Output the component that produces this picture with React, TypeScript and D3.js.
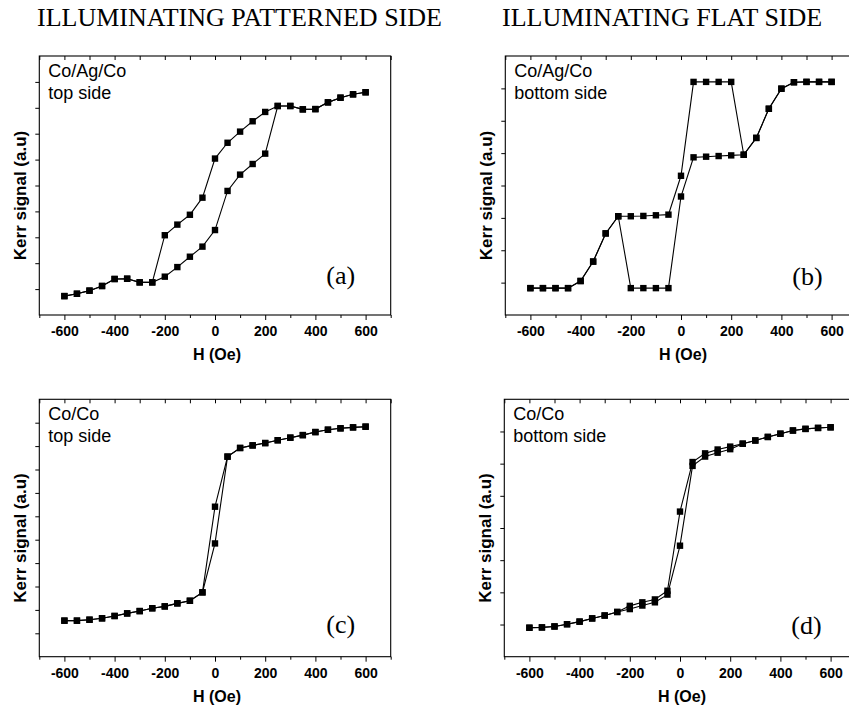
import React, { useRef, useEffect } from "react";
import * as d3 from "d3";

// applied field (Oe), shared by every loop
const fields = [
  -600, -550, -500, -450, -400, -350, -300, -250, -200, -150, -100, -50, 0,
  50, 100, 150, 200, 250, 300, 350, 400, 450, 500, 550, 600,
];

// (a) Co/Ag/Co, top side
const aUp = [0.73, 0.82, 0.94, 1.12, 1.39, 1.4, 1.26, 1.26, 1.48, 1.85, 2.25, 2.64, 3.28, 4.79, 5.42, 5.83, 6.23, 8.07, 8.07, 7.94, 7.95, 8.21, 8.39, 8.52, 8.6];
const aDown = [0.73, 0.82, 0.94, 1.12, 1.39, 1.4, 1.26, 1.26, 3.08, 3.49, 3.87, 4.53, 6.04, 6.65, 7.08, 7.48, 7.84, 8.07, 8.07, 7.94, 7.95, 8.21, 8.39, 8.52, 8.6];

// (b) Co/Ag/Co, bottom side
const bUp = [0.83, 0.83, 0.83, 0.83, 1.05, 1.65, 2.52, 3.05, 3.05, 3.06, 3.08, 3.1, 4.3, 7.2, 7.2, 7.2, 7.2, 4.95, 5.47, 6.37, 6.99, 7.19, 7.2, 7.2, 7.2];
const bDown = [0.83, 0.83, 0.83, 0.83, 1.05, 1.65, 2.52, 3.05, 0.83, 0.83, 0.83, 0.83, 3.66, 4.87, 4.89, 4.91, 4.93, 4.95, 5.47, 6.37, 6.99, 7.19, 7.2, 7.2, 7.2];

// (c) Co/Co, top side
const cUp = [1.54, 1.54, 1.58, 1.64, 1.74, 1.85, 1.95, 2.07, 2.15, 2.28, 2.39, 2.75, 4.84, 8.55, 8.92, 9.03, 9.13, 9.25, 9.36, 9.47, 9.6, 9.7, 9.76, 9.8, 9.83];
const cDown = [1.54, 1.54, 1.58, 1.64, 1.74, 1.85, 1.95, 2.07, 2.15, 2.28, 2.39, 2.75, 6.41, 8.55, 8.92, 9.03, 9.13, 9.25, 9.36, 9.47, 9.6, 9.7, 9.76, 9.8, 9.83];

// (d) Co/Co, bottom side
const dUp = [0.9, 0.91, 0.94, 1.01, 1.09, 1.19, 1.28, 1.39, 1.48, 1.59, 1.69, 1.93, 3.45, 5.93, 6.22, 6.34, 6.45, 6.62, 6.72, 6.83, 6.93, 7.03, 7.08, 7.11, 7.13];
const dDown = [0.9, 0.91, 0.94, 1.01, 1.09, 1.19, 1.28, 1.39, 1.58, 1.69, 1.78, 2.05, 4.51, 6.05, 6.32, 6.44, 6.53, 6.62, 6.72, 6.83, 6.93, 7.03, 7.08, 7.11, 7.13];

const majorTicks = [-600, -400, -200, 0, 200, 400, 600];
const minorTicks = [-700, -500, -300, -100, 100, 300, 500, 700];
const columnTitles = ["ILLUMINATING PATTERNED SIDE", "ILLUMINATING FLAT SIDE"];

const sans = "'Liberation Sans', Arial, sans-serif";
const serif = "'Liberation Serif', 'Times New Roman', serif";

const panels = [
  { left: 39.3, top: 56, bottom: 315, yMax: 10, up: aUp, down: aDown, sample: "Co/Ag/Co", side: "top side", tag: "(a)", tagDy: 31 },
  { left: 505.3, top: 56, bottom: 315, yMax: 8, up: bUp, down: bDown, sample: "Co/Ag/Co", side: "bottom side", tag: "(b)", tagDy: 30 },
  { left: 39.3, top: 399.3, bottom: 656.7, yMax: 11, up: cUp, down: cDown, sample: "Co/Co", side: "top side", tag: "(c)", tagDy: 23.5 },
  { left: 504.3, top: 399.3, bottom: 656.7, yMax: 8, up: dUp, down: dDown, sample: "Co/Co", side: "bottom side", tag: "(d)", tagDy: 22.5 },
];

const App = () => {
  const ref = useRef(null);

  useEffect(() => {
    const svg = d3.select(ref.current);
    svg.selectAll("*").remove();

    svg.append("rect").attr("width", 849).attr("height", 708).attr("fill", "white");

    svg
      .selectAll(".title")
      .data(columnTitles)
      .enter()
      .append("text")
      .attr("class", "title")
      .attr("x", (d, i) => (i === 0 ? 37 : 502))
      .attr("y", 26)
      .attr("font-family", serif)
      .attr("font-size", "26px")
      .attr("fill", "black")
      .text((d) => d);

    panels.forEach((p) => {
      const width = 351.4;
      const right = p.left + width;
      const g = svg.append("g");

      const x = d3.scaleLinear().domain([-700, 700]).range([p.left, right]);
      const y = d3.scaleLinear().domain([0, p.yMax]).range([p.bottom, p.top]);

      // frame
      g.append("rect")
        .attr("x", p.left)
        .attr("y", p.top)
        .attr("width", width)
        .attr("height", p.bottom - p.top)
        .attr("fill", "none")
        .attr("stroke", "black")
        .attr("stroke-width", 1.1);

      // bottom axis, labelled
      const bottomAxis = g
        .append("g")
        .attr("transform", `translate(0,${p.bottom})`)
        .call(
          d3.axisBottom(x).tickValues(majorTicks).tickSize(5).tickPadding(6).tickFormat((d) => String(d))
        );
      bottomAxis.select(".domain").remove();
      bottomAxis
        .selectAll("text")
        .attr("font-family", sans)
        .attr("font-size", "14px")
        .attr("font-weight", "bold")
        .attr("fill", "black");

      const bottomMinor = g
        .append("g")
        .attr("transform", `translate(0,${p.bottom})`)
        .call(d3.axisBottom(x).tickValues(minorTicks).tickSize(3).tickFormat(() => ""));
      bottomMinor.select(".domain").remove();

      // top mirror ticks, pointing in
      const topAxis = g
        .append("g")
        .attr("transform", `translate(0,${p.top})`)
        .call(d3.axisTop(x).tickValues(majorTicks.concat(minorTicks)).tickSize(-4).tickFormat(() => ""));
      topAxis.select(".domain").remove();

      // left ticks, no labels
      const leftAxis = g
        .append("g")
        .attr("transform", `translate(${p.left},0)`)
        .call(d3.axisLeft(y).tickValues(d3.range(1, p.yMax)).tickSize(4).tickFormat(() => ""));
      leftAxis.select(".domain").remove();

      g.selectAll(".tick line").attr("stroke", "black").attr("stroke-width", 1);

      // axis titles
      g.append("text")
        .attr("x", (p.left + right) / 2 + 2)
        .attr("y", p.bottom + 45)
        .attr("text-anchor", "middle")
        .attr("font-family", sans)
        .attr("font-size", "16px")
        .attr("font-weight", "bold")
        .text("H (Oe)");

      g.append("text")
        .attr("transform", `translate(${p.left - 13},${(p.top + p.bottom) / 2 + 10}) rotate(-90)`)
        .attr("text-anchor", "middle")
        .attr("font-family", sans)
        .attr("font-size", "17px")
        .attr("font-weight", "bold")
        .text("Kerr signal (a.u)");

      // sample annotation
      g.append("text")
        .attr("x", p.left + 9)
        .attr("y", p.top + 21)
        .attr("font-family", sans)
        .attr("font-size", "18px")
        .text(p.sample);
      g.append("text")
        .attr("x", p.left + 9)
        .attr("y", p.top + 43)
        .attr("font-family", sans)
        .attr("font-size", "18px")
        .text(p.side);

      g.append("text")
        .attr("x", p.left + 287)
        .attr("y", p.bottom - p.tagDy)
        .attr("font-family", serif)
        .attr("font-size", "26px")
        .text(p.tag);

      // hysteresis branches
      const line = d3
        .line()
        .x((d, i) => x(fields[i]))
        .y((d) => y(d));

      [p.up, p.down].forEach((branch) => {
        g.append("path")
          .datum(branch)
          .attr("d", line)
          .attr("fill", "none")
          .attr("stroke", "black")
          .attr("stroke-width", 1.1);

        g.selectAll(null)
          .data(branch)
          .enter()
          .append("rect")
          .attr("x", (d, i) => x(fields[i]) - 3.2)
          .attr("y", (d) => y(d) - 3.2)
          .attr("width", 6.4)
          .attr("height", 6.4)
          .attr("fill", "black");
      });
    });
  }, []);

  return (
    <svg
      ref={ref}
      width={849}
      height={708}
      style={{ position: "absolute", left: 0, top: 0 }}
    ></svg>
  );
};

export default App;
